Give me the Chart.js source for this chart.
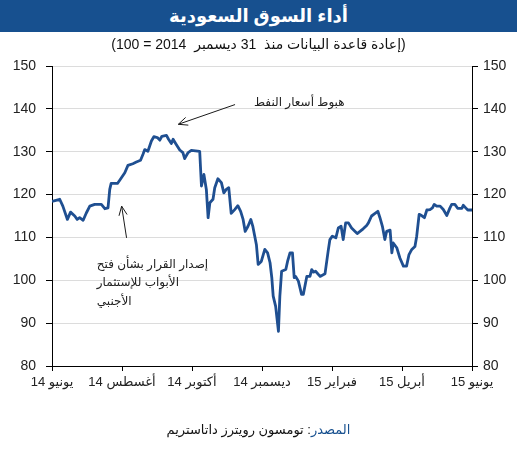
<!DOCTYPE html>
<html><head><meta charset="utf-8">
<script src="https://cdn.jsdelivr.net/npm/chart.js@4/dist/chart.umd.min.js"></script>
<style>
html,body{margin:0;padding:0;background:#fff;width:517px;height:450px;overflow:hidden;font-family:"Liberation Sans","DejaVu Sans",Arial,sans-serif;}
#c{position:absolute;left:0;top:0;}
#banner{position:absolute;left:0;top:0;width:517px;height:32px;background:#17508f;color:#fff;font-weight:bold;font-size:18px;text-align:center;line-height:32px;}
#sub{position:absolute;left:0;top:36px;width:517px;text-align:center;font-size:14px;color:#111;line-height:17px;}
#src{position:absolute;left:0;top:422px;width:517px;text-align:center;font-size:13px;color:#111;line-height:16px;}
</style></head>
<body>
<canvas id="c" width="517" height="450" dir="rtl"></canvas>
<div id="banner" dir="rtl">أداء السوق السعودية</div>
<div id="sub" dir="rtl">(إعادة قاعدة البيانات منذ&nbsp; 31 ديسمبر&nbsp; 2014 = 100)</div>
<div id="src" dir="rtl"><span style="color:#17508f">المصدر</span>: تومسون رويترز داتاستريم</div>
<script>
// x position in months since June 2014
const months = [0.00,0.22,0.31,0.44,0.53,0.65,0.72,0.79,0.89,0.98,1.08,1.22,1.41,1.51,1.60,1.65,1.69,1.87,1.93,2.08,
2.17,2.31,2.41,2.53,2.60,2.65,2.74,2.84,2.91,3.01,3.08,3.14,3.27,3.33,3.41,3.46,3.55,3.65,3.74,3.79,
3.89,3.98,4.22,4.27,4.34,4.41,4.46,4.51,4.60,4.65,4.74,4.84,4.91,4.98,5.05,5.12,5.22,5.31,5.39,5.46,
5.52,5.60,5.68,5.74,5.84,5.89,5.98,6.08,6.16,6.23,6.28,6.32,6.39,6.47,6.51,6.56,6.68,6.73,6.80,6.87,
6.92,6.96,7.04,7.13,7.18,7.28,7.37,7.42,7.47,7.53,7.66,7.80,7.89,7.94,8.01,8.11,8.18,8.26,8.32,8.39,
8.47,8.56,8.66,8.72,8.80,8.89,8.99,9.04,9.13,9.23,9.31,9.37,9.44,9.51,9.56,9.66,9.71,9.75,9.85,9.94,
10.04,10.13,10.20,10.28,10.37,10.42,10.49,10.56,10.64,10.71,10.80,10.87,10.92,10.99,11.09,11.18,11.28,11.37,11.42,11.51,
11.59,11.71,11.75,11.82,11.88,12.00];
// rebased index (31 Dec 2014 = 100)
const indexValues = [118.4,118.9,117.3,114.2,115.9,115.0,114.2,114.6,114.0,115.7,117.3,117.7,117.7,116.7,116.9,121.2,122.6,122.6,123.3,125.1,
126.8,127.2,127.6,128.0,129.4,130.5,130.1,132.5,133.5,133.3,132.7,133.6,133.8,132.9,131.9,132.9,131.7,130.4,129.8,128.4,
129.8,130.3,130.1,122.0,124.7,121.2,114.6,118.1,118.9,121.6,123.7,122.8,120.4,121.2,121.6,115.6,116.5,117.4,116.1,114.2,
111.4,112.6,114.2,112.5,108.3,103.7,104.4,107.2,106.4,104.1,100.6,96.3,93.9,88.1,96.3,102.1,102.5,104.4,106.4,106.4,
100.6,100.9,99.8,96.7,96.7,100.9,100.9,102.5,101.9,102.1,100.9,101.5,106.8,109.5,110.3,109.9,112.2,112.6,109.5,113.4,
113.4,112.2,111.4,110.9,111.4,112.0,112.8,113.4,115.0,115.6,116.1,114.6,112.6,109.5,111.4,111.7,106.4,108.7,107.6,105.2,
103.3,103.3,106.0,107.2,107.9,110.3,115.4,115.1,114.6,116.4,116.5,116.9,117.7,117.3,117.3,116.5,115.1,116.9,117.7,117.7,
116.8,116.8,117.5,116.9,116.4,116.4];
const xTickLabels = ['يونيو 14','أغسطس 14','أكتوبر 14','ديسمبر 14','فبراير 15','أبريل 15','يونيو 15'];
const yMin = 80, yMax = 150, yStep = 10;

const FONT = '"Liberation Sans","DejaVu Sans",Arial,sans-serif';
const points = months.map((m,i)=>({x:m,y:indexValues[i]}));

function arrow(ctx,x1,y1,x2,y2){
  ctx.beginPath();ctx.moveTo(x1,y1);ctx.lineTo(x2,y2);ctx.stroke();
  const a=Math.atan2(y2-y1,x2-x1), L=10, w=0.42;
  ctx.beginPath();
  ctx.moveTo(x2-L*Math.cos(a-w),y2-L*Math.sin(a-w));
  ctx.lineTo(x2,y2);
  ctx.lineTo(x2-L*Math.cos(a+w),y2-L*Math.sin(a+w));
  ctx.stroke();
}

const annot = {
  id:'annot',
  afterDatasetsDraw(chart){
    const {ctx, scales:{x,y}} = chart;
    ctx.save();
    ctx.strokeStyle='#1a1a1a'; ctx.lineWidth=1;
    arrow(ctx,x.getPixelForValue(5.23),y.getPixelForValue(141.0),x.getPixelForValue(3.61),y.getPixelForValue(136.4));
    arrow(ctx,x.getPixelForValue(2.13),y.getPixelForValue(109.9),x.getPixelForValue(1.99),y.getPixelForValue(117.3));
    ctx.fillStyle='#222';
    ctx.font='12px '+FONT;
    ctx.direction='rtl';
    ctx.textAlign='left';
    ctx.textBaseline='middle';
    ctx.fillText('هبوط أسعار النفط',x.getPixelForValue(5.77),y.getPixelForValue(141.5));
    ctx.fillText('إصدار القرار بشأن فتح',x.getPixelForValue(1.28),y.getPixelForValue(103.7));
    ctx.fillText('الأبواب للإستثمار',x.getPixelForValue(1.28),y.getPixelForValue(99.4));
    ctx.fillText('الأجنبي',x.getPixelForValue(1.28),y.getPixelForValue(95.1));
    ctx.restore();
  }
};

new Chart(document.getElementById('c'),{
  type:'line',
  data:{datasets:[{data:points,borderColor:'#1f4f91',borderWidth:2.8,pointRadius:0,tension:0,borderJoinStyle:'round',fill:false}]},
  options:{
    responsive:false,animation:false,
    layout:{padding:{top:66,bottom:50,left:0,right:0}},
    plugins:{legend:{display:false},tooltip:{enabled:false}},
    scales:{
      x:{type:'linear',min:0,max:12,
        afterFit(s){s.height=34;},
        afterBuildTicks(s){s.ticks=xTickLabels.map((_,i)=>({value:i*2}));},
        ticks:{callback:(v,i)=>xTickLabels[i],color:'#222',font:{size:13,family:FONT},padding:4,maxRotation:0,autoSkip:false},
        grid:{drawOnChartArea:false,tickLength:5,color:'#000',tickColor:'#000'},
        border:{color:'#000',width:1}},
      y:{position:'left',min:yMin,max:yMax,
        afterFit(s){s.width=52;},
        ticks:{stepSize:yStep,color:'#222',font:{size:14,family:FONT},padding:10},
        grid:{color:'#dcdcdc',tickColor:'#000',tickLength:6},
        border:{color:'#000',width:1}},
      y2:{position:'right',min:yMin,max:yMax,
        afterFit(s){s.width=45;},
        ticks:{stepSize:yStep,color:'#222',font:{size:14,family:FONT},padding:5},
        grid:{drawOnChartArea:false,tickColor:'#000',tickLength:6},
        border:{color:'#000',width:1}}
    }
  },
  plugins:[annot]
});
</script>
</body></html>
